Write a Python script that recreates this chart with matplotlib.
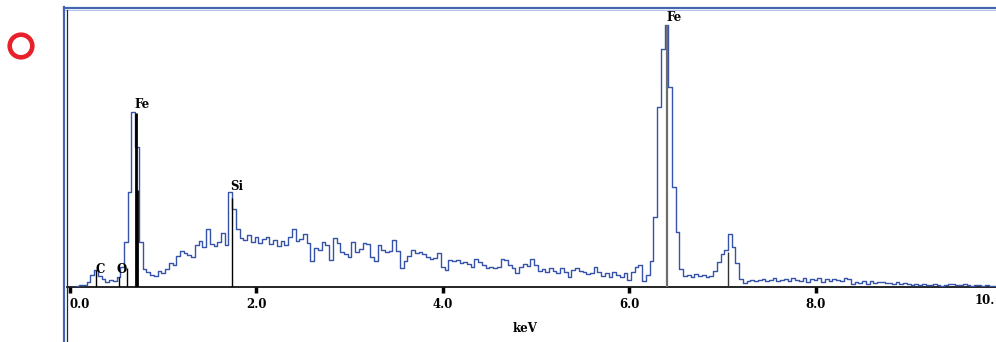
import matplotlib
matplotlib.use('Agg')
import matplotlib.pyplot as plt
from matplotlib.lines import Line2D
from matplotlib.patches import Circle
import numpy as np

# EDS spectrum, 0.04 keV per channel, counts
channel_width = 0.04
counts = [
    0, 0, 1, 2, 2, 5, 12, 17, 11, 8,
    5, 7, 6, 10, 20, 45, 95, 175, 140, 45,
    18, 15, 12, 11, 16, 14, 18, 24, 22, 31,
    36, 34, 32, 30, 42, 46, 40, 58, 43, 41,
    45, 54, 42, 95, 78, 58, 49, 47, 52, 45,
    50, 44, 48, 50, 43, 47, 41, 46, 42, 50,
    58, 46, 48, 53, 44, 26, 39, 37, 45, 42,
    27, 49, 44, 35, 33, 30, 45, 35, 38, 44,
    43, 30, 26, 42, 37, 35, 36, 47, 36, 19,
    26, 31, 37, 34, 35, 33, 30, 28, 29, 34,
    20, 17, 27, 26, 27, 24, 25, 23, 20, 28,
    25, 22, 19, 20, 19, 20, 28, 27, 22, 19,
    14, 20, 23, 21, 28, 22, 16, 18, 15, 19,
    16, 14, 19, 15, 10, 17, 19, 16, 15, 13,
    14, 20, 15, 11, 14, 10, 15, 12, 10, 14,
    7, 15, 20, 22, 6, 12, 26, 70, 180, 238,
    262, 200, 100, 55, 18, 11, 12, 10, 13, 11,
    12, 10, 11, 16, 25, 33, 37, 53, 40, 24,
    8, 4, 6, 7, 6, 7, 8, 6, 7, 9,
    6, 7, 8, 6, 9, 7, 6, 9, 5, 8,
    7, 9, 5, 8, 6, 8, 7, 6, 9, 8,
    3, 5, 4, 6, 3, 6, 4, 5, 5, 4,
    4, 3, 5, 3, 4, 3, 2, 3, 2, 3,
    2, 2, 3, 2, 1, 2, 3, 3, 2, 2,
    3, 2, 1, 2, 2, 1, 2, 1, 1, 1,
]

# element marker lines (keV, height)
marker_kev = [0.277, 0.525, 0.615, 0.705, 0.718, 1.740, 6.404, 7.058]
marker_height = [17, 10, 19, 174, 97, 89, 262, 35]
marker_color = ['black', 'black', 'black', 'black', 'black', 'black', '#6e6e6e', '#333333']
marker_width = [1.0, 1.0, 1.0, 2.0, 2.0, 1.0, 1.6, 1.0]

# element labels (baseline heights)
label_text = ['C', 'O', 'Fe', 'Si', 'Fe']
label_kev = [0.27, 0.50, 0.69, 1.72, 6.40]
label_y = [14, 14, 179, 97, 266]

tick_kev = [0, 2, 4, 6, 8]
tick_labels = ['0.0', '2.0', '4.0', '6.0', '8.0']

W, H = 996, 342
FONT = dict(fontsize=8.5, fontweight='bold', family='DejaVu Serif')

fig = plt.figure(figsize=(W / 100, H / 100), dpi=100)
fig.patch.set_facecolor('white')

ax = fig.add_axes([67 / W, (H - 287) / H, (W - 67) / W, (287 - 8) / H])
ax.set_facecolor('white')

energy = np.arange(len(counts)) * channel_width
ax.step(energy, counts, where='mid', color='#3553a8', lw=1.0, zorder=3)

for e, h, c, w in zip(marker_kev, marker_height, marker_color, marker_width):
    ax.vlines(e, 0, h, colors=c, lw=w, zorder=4)

for t, e, y in zip(label_text, label_kev, label_y):
    ax.text(e, y, t, ha='left', va='baseline', color='black', zorder=5, **FONT)

ax.set_xlim(-0.032, 9.936)
ax.set_ylim(0, 279)
for s in ['top', 'right', 'left']:
    ax.spines[s].set_visible(False)
ax.spines['bottom'].set_color('black')
ax.spines['bottom'].set_linewidth(1.2)
ax.set_yticks([])
ax.set_xticks(tick_kev)
ax.set_xticklabels(tick_labels, **FONT)
ax.get_xticklabels()[0].set_ha('left')
ax.tick_params(axis='x', direction='out', length=4, width=2.5, color='black', pad=4)

# last tick label sits against the right edge, as in the original
fig.text(995 / W, 1 - 301 / H, '10.', ha='right', va='center', **FONT)
fig.text(525 / W, 1 - 328 / H, 'keV', ha='center', va='center', **FONT)

# window frame
def px_line(x0, y0, x1, y1, color, lw):
    fig.add_artist(Line2D([x0 / W, x1 / W], [1 - y0 / H, 1 - y1 / H],
                          transform=fig.transFigure, color=color, lw=lw))

px_line(63.5, 7.5, W, 7.5, '#4466b0', 1.6)
px_line(65, 9.5, W, 9.5, '#b4c3e6', 0.8)
px_line(63.5, 7, 63.5, H, '#4466b0', 1.6)
px_line(67, 10, 67, H, '#1c2460', 0.9)

# red ring on the left (inch coordinates so it stays round)
fig.add_artist(Circle((0.21, (H - 46) / 100), 0.113, transform=fig.dpi_scale_trans,
                      fill=False, edgecolor='#e8202a', lw=3.3))

fig.savefig('out.png', dpi=100, facecolor='white')
